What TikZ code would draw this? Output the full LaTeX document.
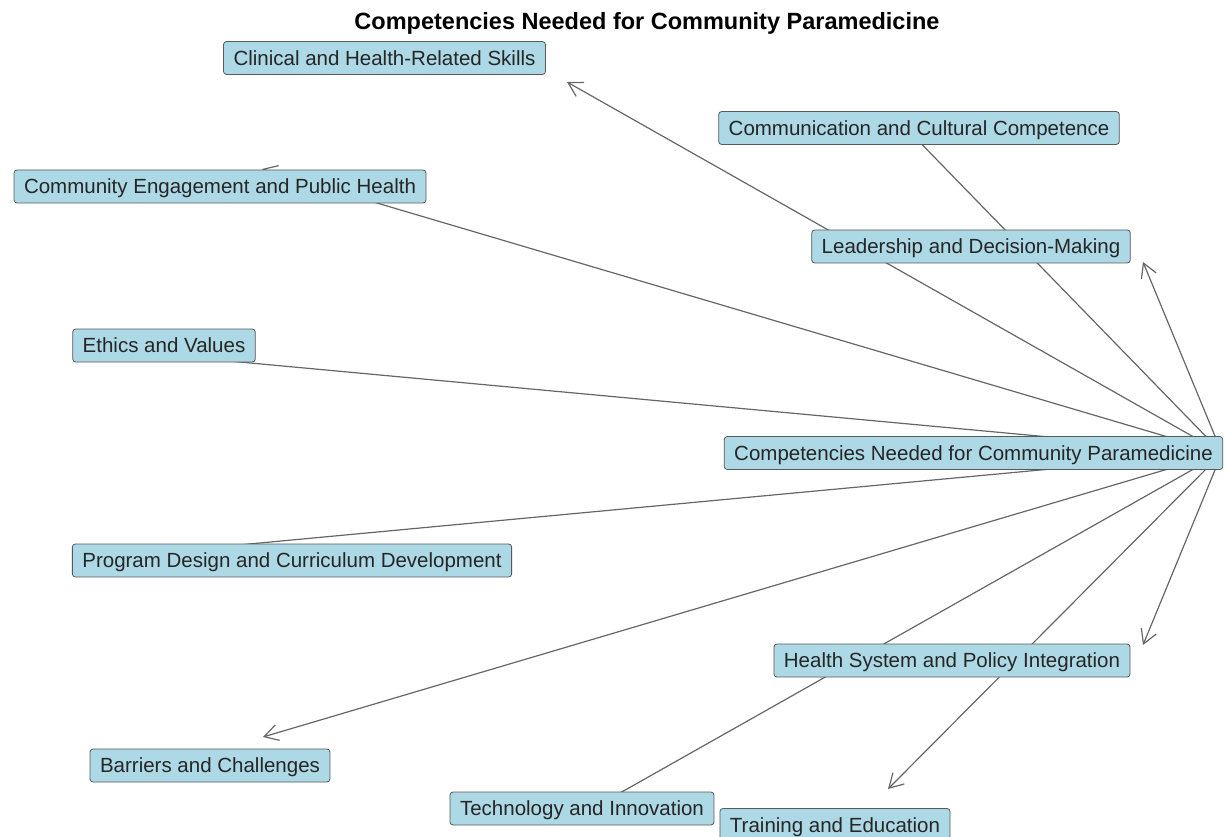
\documentclass[tikz,border=0pt]{standalone}
\usepackage{fontspec}
\setmainfont{Liberation Sans}
\usetikzlibrary{arrows.meta}
\definecolor{labelblue}{HTML}{ADD8E6}
\definecolor{edgegray}{HTML}{666666}

\begin{document}
\begin{tikzpicture}[x=1pt,y=-1pt,>={Straight Barb[angle=60:16pt]}]
        \tikzstyle{topic}=[draw=black!65, fill=labelblue, rounded corners=3pt, line width=0.8pt, inner xsep=10pt, minimum height=33pt, text height=15pt, text depth=0.5pt, text=black!85, font=\fontsize{20.5}{24}\selectfont]
        \tikzstyle{link}=[->, edgegray, line width=1.2pt]
        \useasboundingbox (0,0) rectangle (1224,837);

        % Title
        \node (title) at (647,23) {\fontsize{23.5}{28}\selectfont\bfseries Competencies Needed for Community Paramedicine};

        % Graph points
        \coordinate (hub) at (1222,453);
        \coordinate (pclin) at (567,82);
        \coordinate (pcomm) at (906,128);
        \coordinate (peng) at (262,169);
        \coordinate (plead) at (1143,262);
        \coordinate (peth) at (110,350);
        \coordinate (pprog) at (110,557);
        \coordinate (phsys) at (1143,645);
        \coordinate (pbarr) at (263,737);
        \coordinate (ptech) at (581,815);
        \coordinate (ptrain) at (888,789);

        % Edges, under the labels
        \foreach \p in {pclin,pcomm,peng,plead,peth,pprog,phsys,pbarr,ptech,ptrain}
            \draw[link] (hub) -- (\p);

        % Labels
        \node (cen)[topic] at (973.5,453) {Competencies Needed for Community Paramedicine};
        \node (clin)[topic] at (384.5,58) {Clinical and Health-Related Skills};
        \node (comm)[topic] at (919,128) {Communication and Cultural Competence};
        \node (eng)[topic] at (220,186.5) {Community Engagement and Public Health};
        \node (lead)[topic] at (971,246.5) {Leadership and Decision-Making};
        \node (eth)[topic] at (164,345.5) {Ethics and Values};
        \node (prog)[topic] at (292,560.5) {Program Design and Curriculum Development};
        \node (hsys)[topic] at (952,660.5) {Health System and Policy Integration};
        \node (barr)[topic] at (210,765.5) {Barriers and Challenges};
        \node (tech)[topic] at (582,808.5) {Technology and Innovation};
        \node (train)[topic] at (835,825) {Training and Education};
\end{tikzpicture}
\end{document}
